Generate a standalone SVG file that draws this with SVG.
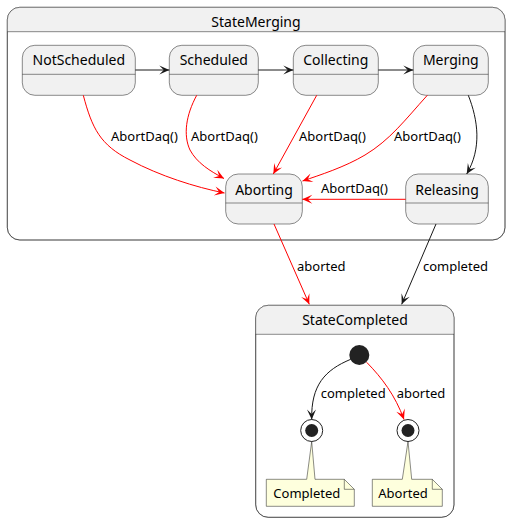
<svg xmlns="http://www.w3.org/2000/svg" width="511" height="522" viewBox="0 0 511 522">
<style>
  .st { fill:#F1F1F1; stroke:#181818; stroke-width:0.5; }
  .ln { fill:none; stroke:#181818; stroke-width:0.5; }
  .cont { fill:#FFFFFF; stroke:#181818; stroke-width:0.5; }
  .name { font-family:"Noto Sans","DejaVu Sans",sans-serif; font-size:14px; fill:#000; text-anchor:middle; }
  .lbl { font-family:"Noto Sans","DejaVu Sans",sans-serif; font-size:13px; fill:#000; }
  .blk { fill:none; stroke:#181818; stroke-width:1; marker-end:url(#ab); }
  .red { fill:none; stroke:#FF0000; stroke-width:1; marker-end:url(#ar); }
  .note { fill:#FEFFDD; stroke:#181818; stroke-width:0.5; }
</style>
<defs>
  <marker id="ab" viewBox="-11 -5 12 10" refX="0" refY="0" markerWidth="12" markerHeight="10" markerUnits="userSpaceOnUse" orient="auto">
    <path d="M0,0 L-10,-4.5 L-5.5,0 L-10,4.5 Z" fill="#181818"/>
  </marker>
  <marker id="ar" viewBox="-11 -5 12 10" refX="0" refY="0" markerWidth="12" markerHeight="10" markerUnits="userSpaceOnUse" orient="auto">
    <path d="M0,0 L-10,-4.5 L-5.5,0 L-10,4.5 Z" fill="#FF0000"/>
  </marker>
</defs>

<g id="StateMerging">
  <rect class="cont" x="7.3" y="7.3" width="497.7" height="232.7" rx="12.5"/>
  <path d="M7.3,31.7 L7.3,19.8 A12.5,12.5 0 0 1 19.8,7.3 L492.5,7.3 A12.5,12.5 0 0 1 505,19.8 L505,31.7 Z" fill="#F1F1F1"/>
  <rect class="ln" x="7.3" y="7.3" width="497.7" height="232.7" rx="12.5"/>
  <line class="ln" x1="7.3" y1="31.7" x2="505" y2="31.7"/>
  <text class="name" x="256" y="27">StateMerging</text>
</g>

<g id="StateCompleted">
  <rect class="cont" x="255.7" y="305.3" width="198.3" height="212" rx="12.5"/>
  <path d="M255.7,334.3 L255.7,317.8 A12.5,12.5 0 0 1 268.2,305.3 L441.5,305.3 A12.5,12.5 0 0 1 454,317.8 L454,334.3 Z" fill="#F1F1F1"/>
  <rect class="ln" x="255.7" y="305.3" width="198.3" height="212" rx="12.5"/>
  <line class="ln" x1="255.7" y1="334.3" x2="454" y2="334.3"/>
  <text class="name" x="355" y="325">StateCompleted</text>
</g>

<g id="NotScheduled">
  <rect class="st" x="22.3" y="45.3" width="113" height="50" rx="12.5"/>
  <line class="ln" x1="22.3" y1="74.3" x2="135.3" y2="74.3"/>
  <text class="name" x="78.8" y="65">NotScheduled</text>
</g>
<g id="Scheduled">
  <rect class="st" x="169.3" y="45.3" width="89" height="50" rx="12.5"/>
  <line class="ln" x1="169.3" y1="74.3" x2="258.3" y2="74.3"/>
  <text class="name" x="213.8" y="65">Scheduled</text>
</g>
<g id="Collecting">
  <rect class="st" x="293.3" y="45.3" width="85" height="50" rx="12.5"/>
  <line class="ln" x1="293.3" y1="74.3" x2="378.3" y2="74.3"/>
  <text class="name" x="335.8" y="65">Collecting</text>
</g>
<g id="Merging">
  <rect class="st" x="413.3" y="45.3" width="75" height="50" rx="12.5"/>
  <line class="ln" x1="413.3" y1="74.3" x2="488.3" y2="74.3"/>
  <text class="name" x="450.8" y="65">Merging</text>
</g>
<g id="Aborting">
  <rect class="st" x="225.7" y="174" width="76.6" height="50" rx="12.5"/>
  <line class="ln" x1="225.7" y1="203" x2="302.3" y2="203"/>
  <text class="name" x="264" y="194.5">Aborting</text>
</g>
<g id="Releasing">
  <rect class="st" x="405.7" y="174" width="82.6" height="50" rx="12.5"/>
  <line class="ln" x1="405.7" y1="203" x2="488.3" y2="203"/>
  <text class="name" x="447" y="194.5">Releasing</text>
</g>

<g id="initial">
  <circle cx="359.3" cy="355" r="10" fill="#222222"/>
</g>
<g id="finalCompleted">
  <circle cx="311.7" cy="430.5" r="11" fill="none" stroke="#222222" stroke-width="1"/>
  <circle cx="311.7" cy="430.5" r="6.5" fill="#222222"/>
</g>
<g id="finalAborted">
  <circle cx="408" cy="430.5" r="11" fill="none" stroke="#222222" stroke-width="1"/>
  <circle cx="408" cy="430.5" r="6.5" fill="#222222"/>
</g>

<g id="noteCompleted">
  <path class="note" d="M266.3,479.3 L306.7,479.3 L311.7,441.5 L315,479.3 L344.3,479.3 L354.3,489.3 L354.3,506.3 L266.3,506.3 Z"/>
  <path class="ln" d="M344.3,479.3 L344.3,489.3 L354.3,489.3"/>
  <text class="lbl" x="273.3" y="498">Completed</text>
</g>
<g id="noteAborted">
  <path class="note" d="M372.3,479.3 L402.3,479.3 L408,441.5 L411.7,479.3 L432.3,479.3 L442.3,489.3 L442.3,506.3 L372.3,506.3 Z"/>
  <path class="ln" d="M432.3,479.3 L432.3,489.3 L442.3,489.3"/>
  <text class="lbl" x="378.3" y="498">Aborted</text>
</g>

<g id="connectors">
  <path class="blk" d="M135.3,70 L169.3,70"/>
  <path class="blk" d="M258.3,70 L293.3,70"/>
  <path class="blk" d="M378.3,70 L413.3,70"/>
  <path class="red" d="M83.3,95.3 C92,128 100,145 130,160 C160,176 195,187 224.5,193"/>
  <text class="lbl" x="111" y="141">AbortDaq()</text>
  <path class="red" d="M196.7,95.3 C186,115 183,135 190,150 C197,163 210,171 224,178.5"/>
  <text class="lbl" x="191" y="141">AbortDaq()</text>
  <path class="red" d="M316.7,95.3 L273.3,174"/>
  <text class="lbl" x="299" y="141">AbortDaq()</text>
  <path class="red" d="M427.3,95.3 C405,120 390,140 365,155 C345,167 320,175 302.5,181"/>
  <text class="lbl" x="394" y="141">AbortDaq()</text>
  <path class="blk" d="M468.3,95.3 C478,120 482,148 466.7,174"/>
  <path class="red" d="M405.7,199.3 L302.3,199.3"/>
  <text class="lbl" x="321" y="192.5">AbortDaq()</text>
  <path class="red" d="M274,224 L309.3,304.3"/>
  <text class="lbl" x="297" y="270.5">aborted</text>
  <path class="blk" d="M436,224 L401.7,304.3"/>
  <text class="lbl" x="423" y="270.5">completed</text>
  <path class="blk" d="M350.7,359.3 C325,370 311,385 311.7,419.5"/>
  <text class="lbl" x="320.7" y="398">completed</text>
  <path class="red" d="M366.7,362.3 C382,378 395,395 404,419.5"/>
  <text class="lbl" x="396.7" y="398">aborted</text>
</g>
</svg>
